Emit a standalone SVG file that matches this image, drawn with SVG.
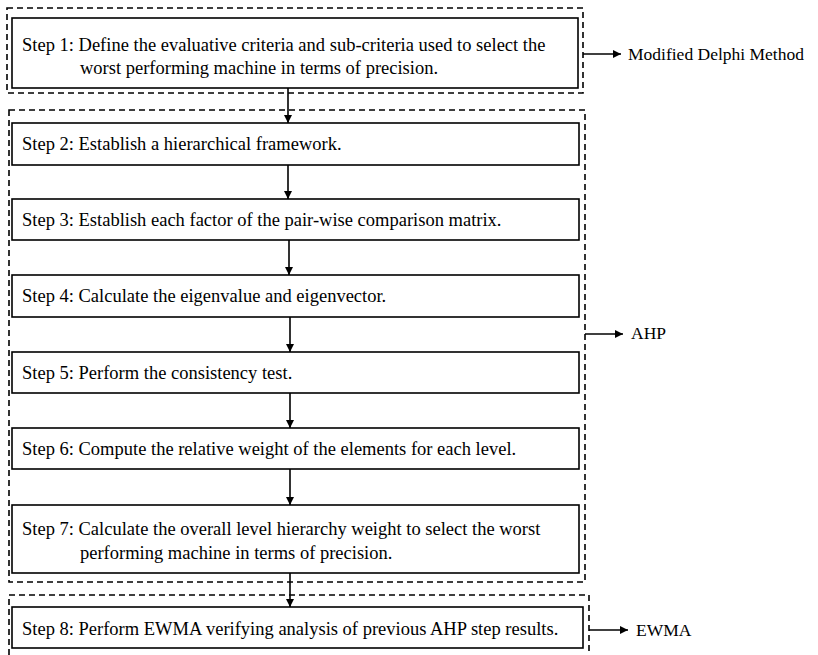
<svg xmlns="http://www.w3.org/2000/svg" width="818" height="655" viewBox="0 0 818 655">
<defs>
<marker id="ah" viewBox="0 0 10 10" refX="10" refY="5" markerWidth="8" markerHeight="8" markerUnits="userSpaceOnUse" orient="auto">
<path d="M0,0 L10,5 L0,10 z" fill="#000"/>
</marker>
<style>
.box{fill:#fff;stroke:#000;stroke-width:1.6}
.grp{fill:none;stroke:#000;stroke-width:1.6;stroke-dasharray:6,4}
.t{font-family:"Liberation Serif","Times New Roman",serif;font-size:18.5px;fill:#000}
.lbl{font-family:"Liberation Serif","Times New Roman",serif;font-size:17.5px;fill:#000}
.c{fill:none;stroke:#000;stroke-width:1.6;marker-end:url(#ah)}
</style>
</defs>
<rect width="818" height="655" fill="#fff"/>
<g id="groups">
<rect class="grp" x="7" y="8" width="576" height="85"/>
<rect class="grp" x="9" y="110" width="576" height="472"/>
<rect class="grp" x="9" y="595" width="580" height="70"/>
</g>
<g id="step1"><rect class="box" x="12" y="18" width="566" height="70"/>
<text class="t" x="22" y="51">Step 1: Define the evaluative criteria and sub-criteria used to select the</text>
<text class="t" x="80" y="74">worst performing machine in terms of precision.</text></g>
<g id="step2"><rect class="box" x="12" y="123" width="567" height="42"/>
<text class="t" x="22" y="150">Step 2: Establish a hierarchical framework.</text></g>
<g id="step3"><rect class="box" x="12" y="199" width="567" height="41"/>
<text class="t" x="22" y="226">Step 3: Establish each factor of the pair-wise comparison matrix.</text></g>
<g id="step4"><rect class="box" x="12" y="275" width="567" height="42"/>
<text class="t" x="22" y="302">Step 4: Calculate the eigenvalue and eigenvector.</text></g>
<g id="step5"><rect class="box" x="12" y="352" width="567" height="41"/>
<text class="t" x="22" y="379">Step 5: Perform the consistency test.</text></g>
<g id="step6"><rect class="box" x="12" y="428" width="567" height="41"/>
<text class="t" x="22" y="455">Step 6: Compute the relative weight of the elements for each level.</text></g>
<g id="step7"><rect class="box" x="12" y="505" width="567" height="68"/>
<text class="t" x="22" y="535">Step 7: Calculate the overall level hierarchy weight to select the worst</text>
<text class="t" x="80" y="559">performing machine in terms of precision.</text></g>
<g id="step8"><rect class="box" x="12" y="607" width="571" height="41"/>
<text class="t" x="22" y="635">Step 8: Perform EWMA verifying analysis of previous AHP step results.</text></g>
<g id="labels">
<text class="lbl" x="628" y="60">Modified Delphi Method</text>
<text class="lbl" x="631" y="339">AHP</text>
<text class="lbl" x="636" y="636">EWMA</text>
</g>
<g id="connectors">
<line class="c" x1="288" y1="88" x2="288" y2="123"/>
<line class="c" x1="288" y1="165" x2="288" y2="199"/>
<line class="c" x1="289" y1="240" x2="289" y2="275"/>
<line class="c" x1="290" y1="317" x2="290" y2="352"/>
<line class="c" x1="290" y1="393" x2="290" y2="428"/>
<line class="c" x1="290" y1="469" x2="290" y2="505"/>
<line class="c" x1="290" y1="573" x2="290" y2="607"/>
<line class="c" x1="583" y1="54" x2="621" y2="54"/>
<line class="c" x1="585" y1="334" x2="623" y2="334"/>
<line class="c" x1="589" y1="630" x2="628" y2="630"/>
</g>
</svg>
